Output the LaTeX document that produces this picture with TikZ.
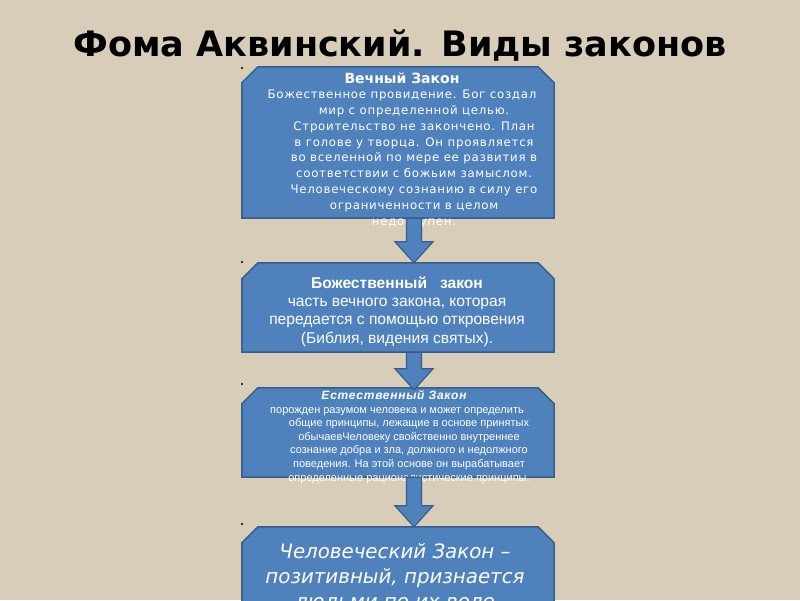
\documentclass[tikz,border=0pt]{standalone}
\usepackage{fontspec}
\setmainfont{DejaVu Sans}
\newfontfamily\dvs{DejaVu Sans}
\newfontfamily\dvsls[LetterSpace=6]{DejaVu Sans}
\newfontfamily\lib{Liberation Sans}
\newfontfamily\libls[LetterSpace=6]{Liberation Sans}
\usetikzlibrary{calc}
\definecolor{bg}{RGB}{215,205,185}
\definecolor{boxfill}{RGB}{79,129,189}
\definecolor{boxline}{RGB}{56,93,138}
\newcommand\snipbox[1]{\draw[snip] ($(#1.north west)+(0,16)$) -- ($(#1.north west)+(16,0)$) -- ($(#1.north east)+(-16,0)$) -- ($(#1.north east)+(0,16)$) -- (#1.south east) -- (#1.south west) -- cycle;}
\newcommand\blockarr[2]{\draw[blockarrow] let \p1=(#1), \p2=(#2) in (\x1-7.5pt,\y1) -- (\x1-7.5pt,\y2+21pt) -- (\x1-19pt,\y2+21pt) -- (\x1,\y2) -- (\x1+19pt,\y2+21pt) -- (\x1+7.5pt,\y2+21pt) -- (\x1+7.5pt,\y1) -- cycle;}
\begin{document}
\begin{tikzpicture}[x=1pt,y=-1pt,
  boxbase/.style={rectangle, inner sep=0, minimum width=312pt, draw=none},
  snip/.style={fill=boxfill, draw=boxline, line width=1.5pt, line join=miter},
  blockarrow/.style={fill=boxfill, draw=boxline, line width=1.2pt, line join=miter},
  txt/.style={text=white, inner sep=0, align=center},
  dotmark/.style={circle, fill=black, inner sep=0, minimum size=2.2pt}]
\useasboundingbox (0,0) rectangle (800,600);
\clip (0,0) rectangle (800,600);
\fill[bg] (0,0) rectangle (800,600);
% title
\node[anchor=base, inner sep=0, font=\dvs\bfseries\fontsize{35}{40}\selectfont] (title) at (400,56) {Фома Аквинский. Виды законов};
% boxes
\node[boxbase, minimum height=151pt] (b1) at (398,142.5) {};
\node[boxbase, minimum height=89pt] (b2) at (398,307.5) {};
\node[boxbase, minimum height=89pt] (b3) at (398,432.5) {};
\node[boxbase, minimum height=120pt] (b4) at (398,587) {};
\snipbox{b1}\snipbox{b2}\snipbox{b3}\snipbox{b4}
% dots
\node[dotmark] (d1) at (242,68) {};
\node[dotmark] (d2) at (242,262) {};
\node[dotmark] (d3) at (242,384) {};
\node[dotmark] (d4) at (242,524) {};
% texts
\node[txt, anchor=base, font=\dvs\bfseries\fontsize{14}{16}\selectfont] (t1) at (402,83) {Вечный Закон};
\node[txt, anchor=north, font=\dvsls\fontsize{11.8}{15.9}\selectfont] (x1) at (414,89.5) {Божественное провидение. Бог создал\kern24pt\\мир с определенной целью.\\Строительство не закончено. План\\в голове у творца. Он проявляется\\во вселенной по мере ее развития в\\соответствии с божьим замыслом.\\Человеческому сознанию в силу его\\ограниченности в целом\\недоступен.};
\node[txt, anchor=north, font=\lib\fontsize{15.6}{18.3}\selectfont] (x2) at (397,276.5) {{\bfseries Божественный\ \ \ закон}\\часть вечного закона, которая\\передается с помощью откровения\\(Библия, видения святых).};
\node[txt, anchor=base, font=\libls\bfseries\itshape\fontsize{12}{13}\selectfont] (t3) at (394,399) {Естественный Закон};
\node[txt, anchor=north, font=\lib\fontsize{11}{13.6}\selectfont] (x3) at (409,407) {порожден разумом человека и может определить\kern24pt\\общие принципы, лежащие в основе принятых\\обычаевЧеловеку свойственно внутреннее\\сознание добра и зла, должного и недолжного\\поведения. На этой основе он вырабатывает\\определенные рационалистические принципы.};
\node[txt, anchor=north, font=\dvs\itshape\fontsize{19.8}{25}\selectfont] (x4) at (395,543.5) {Человеческий Закон –\\позитивный, признается\\людьми по их воле};
% arrows
\coordinate (ax) at (414,0);
\blockarr{b1.south -| ax}{b2.north -| ax}
\blockarr{b2.south -| ax}{$(b3.north -| ax)+(0,2)$}
\blockarr{b3.south -| ax}{b4.north -| ax}
\end{tikzpicture}
\end{document}
